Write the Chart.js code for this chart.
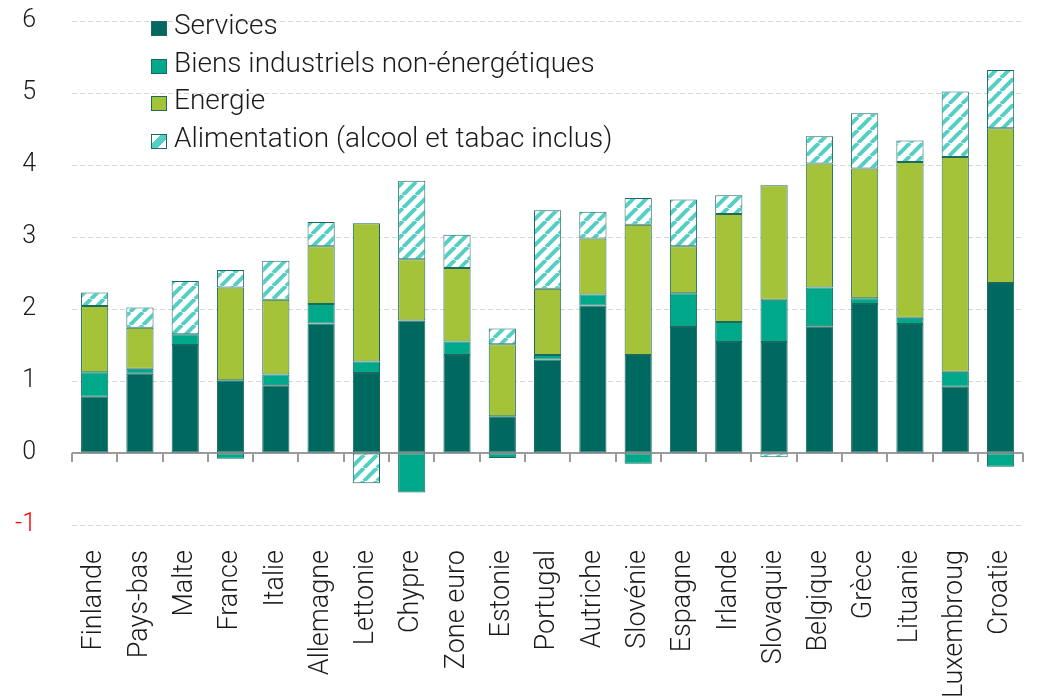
<!DOCTYPE html>
<html>
<head>
<meta charset="utf-8">
<script src="https://cdn.jsdelivr.net/npm/chart.js@4.4.0/dist/chart.umd.min.js"></script>
<style>
  html, body { margin: 0; padding: 0; background: #fff; overflow: hidden; }
  #wrap { position: relative; width: 1050px; height: 696px; }
  #legend { position: absolute; left: 151px; top: 4px; font-family: Roboto, sans-serif; font-weight: 300; font-size: 28px; color: #1a1a1a; }
  .item { height: 37.5px; display: flex; align-items: flex-end; white-space: nowrap; position: relative; }
  .sw { position: absolute; left: 0; width: 16px; height: 15px; box-sizing: border-box; border: 1px solid #1a6a62; }
  .tx { position: absolute; left: 23px; line-height: 1; }
</style>
</head>
<body>
<div id="wrap">
  <canvas id="c"></canvas>
  <div id="legend"></div>
</div>
<script>
const categories = ["Finlande","Pays-bas","Malte","France","Italie","Allemagne","Lettonie","Chypre","Zone euro","Estonie","Portugal","Autriche","Slovénie","Espagne","Irlande","Slovaquie","Belgique","Grèce","Lituanie","Luxembroug","Croatie"];
const services     = [0.78, 1.10, 1.50, 1.01, 0.94, 1.80, 1.11, 1.84, 1.36, 0.51, 1.30, 2.05, 1.36, 1.75, 1.54, 1.54, 1.76, 2.07, 1.79, 0.92, 2.36];
const biens        = [0.34, 0.07, 0.15, -0.08, 0.15, 0.27, 0.16, -0.55, 0.19, -0.07, 0.06, 0.15, -0.15, 0.47, 0.28, 0.59, 0.54, 0.08, 0.09, 0.21, -0.19];
const energie      = [0.92, 0.57, null, 1.29, 1.04, 0.80, 1.92, 0.85, 1.02, 1.00, 0.92, 0.78, 1.81, 0.65, 1.50, 1.59, 1.72, 1.80, 2.16, 2.98, 2.15];
const alimentation = [0.19, 0.28, 0.74, 0.24, 0.54, 0.34, -0.42, 1.09, 0.46, 0.22, 1.09, 0.37, 0.37, 0.65, 0.26, -0.06, 0.38, 0.77, 0.30, 0.91, 0.81];
const seriesNames = ["Services", "Biens industriels non-énergétiques", "Energie", "Alimentation (alcool et tabac inclus)"];
const yTicks = [-1, 0, 1, 2, 3, 4, 5, 6];

const FONT = 'Roboto, sans-serif';
const C_SERV = '#00695f';
const C_BIENS = '#00a88a';
const C_ENER = '#a4c339';
const C_HATCH = '#55cfc4';
const C_BORDER = '#1a6a62';
const C_AXIS = '#9b9b9b';

function makeHatch() {
  const s = 13;
  const cv = document.createElement('canvas');
  cv.width = s; cv.height = s;
  const x = cv.getContext('2d');
  x.fillStyle = '#ffffff';
  x.fillRect(0, 0, s, s);
  x.strokeStyle = C_HATCH;
  x.lineWidth = 4;
  x.beginPath();
  for (const k of [-s, 0, s]) { x.moveTo(k, s); x.lineTo(k + s, 0); }
  x.stroke();
  return x.createPattern(cv, 'repeat');
}
const hatch = makeHatch();

const fills = [C_SERV, C_BIENS, C_ENER, hatch];
const dataSets = [services, biens, energie, alimentation];

// zero axis line with category boundary tick marks, positioned through the scales
const zeroAxis = {
  id: 'zeroAxis',
  beforeDatasetsDraw(chart) {
    const { ctx, chartArea, scales: { x, y } } = chart;
    const y0 = Math.round(y.getPixelForValue(0));
    const step = x.getPixelForValue(1) - x.getPixelForValue(0);
    ctx.save();
    ctx.strokeStyle = C_AXIS;
    ctx.lineWidth = 2;
    ctx.beginPath();
    ctx.moveTo(chartArea.left, y0);
    ctx.lineTo(chartArea.right, y0);
    for (let i = 0; i <= categories.length; i++) {
      const px = Math.round(x.getPixelForValue(0) + (i - 0.5) * step);
      ctx.moveTo(px, y0);
      ctx.lineTo(px, y0 + 9);
    }
    ctx.stroke();
    ctx.restore();
  }
};

const ctx = document.getElementById('c');
new Chart(ctx, {
  type: 'bar',
  data: {
    labels: categories,
    datasets: dataSets.map((d, i) => ({
      label: seriesNames[i],
      data: d,
      backgroundColor: fills[i],
      borderColor: C_BORDER,
      borderWidth: 1,
      borderSkipped: false,
      barPercentage: 0.6,
      categoryPercentage: 1.0
    }))
  },
  plugins: [zeroAxis],
  options: {
    responsive: true,
    maintainAspectRatio: false,
    animation: false,
    layout: { padding: { top: 21, right: 2, left: 0, bottom: 0 } },
    plugins: { legend: { display: false }, tooltip: { enabled: false } },
    scales: {
      x: {
        stacked: true,
        offset: true,
        grid: { display: false },
        border: { display: false },
        ticks: {
          autoSkip: false, maxRotation: 90, minRotation: 90, padding: 17,
          color: '#1a1a1a', font: { family: FONT, size: 27, weight: '300' }
        },
        afterFit(s) { s.height = 171; }
      },
      y: {
        stacked: true,
        min: yTicks[0],
        max: yTicks[yTicks.length - 1],
        afterBuildTicks(s) { s.ticks = yTicks.map(v => ({ value: v })); },
        ticks: {
          padding: 36,
          color: c => (c.tick && c.tick.value < 0) ? '#ff0000' : '#1a1a1a',
          font: { family: FONT, size: 25, weight: '300' }
        },
        grid: {
          drawTicks: false,
          lineWidth: 1,
          color: c => (c.tick && c.tick.value === 0) ? 'rgba(0,0,0,0)' : '#d6d6d6',
          borderDash: [5, 3]
        },
        border: { display: false, dash: [5, 3] },
        afterFit(s) { s.width = 72; s.paddingTop = 10; s.paddingBottom = 10; }
      }
    }
  }
});

// HTML legend
const legend = document.getElementById('legend');
const swStyles = [
  'background:' + C_SERV,
  'background:' + C_BIENS,
  'background:' + C_ENER,
  'background: linear-gradient(135deg, #fff 33%, ' + C_HATCH + ' 33%, ' + C_HATCH + ' 67%, #fff 67%)'
];
seriesNames.forEach((n, i) => {
  const it = document.createElement('div');
  it.className = 'item';
  const sw = document.createElement('span');
  sw.className = 'sw';
  sw.setAttribute('style', swStyles[i] + '; top:17px');
  const t = document.createElement('span');
  t.className = 'tx';
  t.style.top = '7px';
  t.textContent = n;
  it.appendChild(sw); it.appendChild(t);
  legend.appendChild(it);
});
</script>
</body>
</html>
